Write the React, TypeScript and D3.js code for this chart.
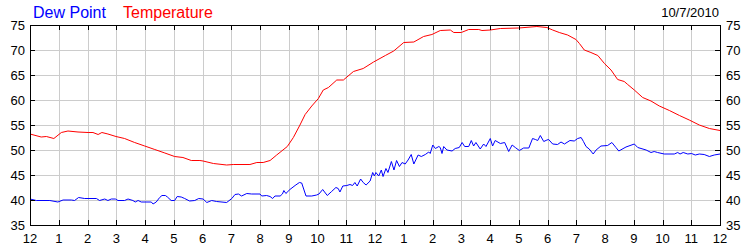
import React from "react";
import * as d3 from "d3";

const hourLabels = ["12","1","2","3","4","5","6","7","8","9","10","11","12","1","2","3","4","5","6","7","8","9","10","11","12"];
const yTicks = [35, 40, 45, 50, 55, 60, 65, 70, 75];
const dateLabel = "10/7/2010";
const seriesNames = ["Dew Point", "Temperature"];

// hours since midnight, value in °F
const tempHours = [0,0.39,0.57,0.83,1.09,1.32,1.67,2.02,2.19,2.37,2.5,2.71,2.99,3.29,3.64,3.99,4.34,4.69,5.03,5.32,5.61,5.91,6.02,6.38,6.84,7.07,7.65,7.89,8.11,8.35,8.58,8.95,9.16,9.39,9.57,9.8,10.03,10.2,10.38,10.67,10.9,11.25,11.59,11.95,12.36,12.65,13.0,13.35,13.69,13.98,14.27,14.62,14.74,15.0,15.26,15.61,15.72,16.01,16.36,17.0,17.63,17.98,18.18,18.41,18.7,18.99,19.11,19.28,19.51,19.75,19.98,20.21,20.44,20.67,20.79,21.02,21.31,21.6,21.89,22.24,22.59,22.93,23.28,23.63,24.0];
const tempValues = [53.2,52.6,52.7,52.3,53.5,53.8,53.6,53.5,53.5,53.1,53.5,53.2,52.7,52.3,51.5,50.8,50.1,49.4,48.7,48.5,47.9,47.9,47.8,47.3,47.0,47.1,47.1,47.5,47.5,47.9,49.0,50.7,52.5,55.0,57.1,58.8,60.3,62.0,62.5,64.0,64.0,65.7,66.3,67.6,68.9,69.8,71.5,71.6,72.7,73.1,73.9,74.0,73.5,73.5,74.1,74.1,73.9,74.0,74.3,74.4,74.7,74.5,74.0,73.5,73.0,72.1,71.3,70.0,69.5,68.9,67.3,66.0,64.1,63.7,63.1,62.0,60.5,59.8,58.8,57.9,56.9,56.0,55.0,54.3,53.9];

const dewHours = [0,0.22,0.69,0.97,1.15,1.44,1.55,1.69,1.9,2.31,2.42,2.6,2.71,2.83,2.97,3.06,3.29,3.41,3.58,3.66,3.76,3.87,4.22,4.28,4.39,4.51,4.59,4.71,4.78,4.91,5.03,5.12,5.26,5.38,5.55,5.73,5.87,6.02,6.15,6.32,6.49,6.84,7.02,7.13,7.25,7.36,7.54,7.71,8.0,8.06,8.23,8.35,8.44,8.52,8.7,8.78,8.83,8.9,9.04,9.22,9.37,9.45,9.6,9.8,9.97,10.05,10.18,10.34,10.49,10.64,10.72,10.78,10.88,11.02,11.13,11.22,11.3,11.38,11.5,11.59,11.69,11.83,11.92,11.98,12.03,12.13,12.22,12.28,12.38,12.45,12.57,12.66,12.75,12.85,12.94,13.05,13.15,13.26,13.35,13.5,13.61,13.75,13.87,13.92,14.01,14.1,14.22,14.27,14.33,14.39,14.5,14.68,14.79,14.93,15.03,15.12,15.26,15.35,15.43,15.51,15.66,15.78,15.86,16.01,16.09,16.18,16.36,16.51,16.65,16.77,16.88,17.02,17.17,17.35,17.48,17.58,17.66,17.75,17.87,17.98,18.04,18.18,18.35,18.47,18.59,18.78,18.93,19.05,19.17,19.25,19.34,19.45,19.59,19.69,19.86,20.09,20.24,20.38,20.48,20.73,21.02,21.14,21.43,21.6,21.71,21.83,22.06,22.41,22.53,22.61,22.72,22.88,23.01,23.14,23.28,23.45,23.63,23.8,24.0];
const dewValues = [40.2,39.9,39.9,39.6,40.0,40.0,39.9,40.5,40.3,40.3,39.9,40.2,39.9,40.2,40.2,39.9,39.9,40.2,39.9,39.6,39.9,39.6,39.6,39.2,39.6,40.5,40.9,40.9,40.6,39.9,39.9,40.7,40.6,40.3,39.8,39.9,40.3,40.2,39.5,39.9,39.7,39.5,40.3,41.1,41.2,40.8,41.3,41.2,41.2,40.8,40.9,40.7,40.3,40.8,40.8,41.2,41.9,41.3,42.1,42.9,43.5,43.4,40.8,40.8,41.0,41.2,42.1,40.9,41.7,42.5,42.3,41.6,42.8,42.9,43.1,42.9,43.5,42.8,44.2,43.5,43.0,43.8,45.5,44.8,45.5,44.8,46.0,44.7,46.3,45.5,47.7,46.0,47.9,46.7,47.5,47.2,48.0,49.1,47.2,49.0,48.7,49.1,49.6,49.3,51.0,50.3,50.7,50.5,49.3,50.7,50.0,49.8,50.3,50.5,51.5,50.7,50.7,51.9,50.8,51.5,50.2,51.2,50.7,52.3,50.8,51.9,51.3,51.5,49.7,51.0,50.5,49.9,50.4,50.4,52.3,52.1,51.9,52.9,51.7,52.0,52.1,51.2,51.1,51.6,51.2,51.9,51.8,52.3,52.5,51.7,50.7,50.2,49.2,50.0,50.8,50.9,51.5,50.5,49.8,50.6,51.2,50.5,50.0,49.5,49.7,49.5,49.2,49.2,49.5,49.2,49.5,49.2,49.3,49.0,49.2,49.1,48.7,49.0,49.2];

const W = 750, H = 250;
const L = 30, R = 720, T = 25, B = 225;
const FONT = "Arial, 'Liberation Sans', sans-serif";

export default function App() {
  const x = d3.scaleLinear().domain([0, 24]).range([L, R]);
  const y = d3.scaleLinear().domain([35, 75]).range([B, T]);
  const hourTicks = d3.range(0, 25);

  const tempData = tempHours.map((h, i) => [h, tempValues[i]] as [number, number]);
  const dewData = dewHours.map((h, i) => [h, dewValues[i]] as [number, number]);
  const line = d3.line<[number, number]>().x(d => x(d[0])).y(d => y(d[1]));

  const px = (v: number) => Math.round(v) + 0.5;

  return (
    <div style={{ position: "absolute", left: 0, top: 0 }}>
      <svg width={W} height={H} style={{ display: "block", background: "#fff" }} fontFamily={FONT}>
        <rect x={0} y={0} width={W} height={H} fill="#fff" />
        {/* grid */}
        <g stroke="#cccccc" strokeWidth={1} shapeRendering="crispEdges">
          {hourTicks.slice(1, -1).map(h => (
            <line key={"gv" + h} x1={px(x(h))} x2={px(x(h))} y1={T} y2={B} />
          ))}
          {yTicks.slice(1, -1).map(v => (
            <line key={"gh" + v} x1={L} x2={R} y1={px(y(v))} y2={px(y(v))} />
          ))}
        </g>
        {/* series */}
        <path d={line(dewData) || ""} fill="none" stroke="#0000ff" strokeWidth={1} />
        <path d={line(tempData) || ""} fill="none" stroke="#ff0000" strokeWidth={1} />
        {/* frame & ticks */}
        <g stroke="#000" strokeWidth={1} shapeRendering="crispEdges">
          <rect x={px(L)} y={px(T)} width={R - L} height={B - T} fill="none" />
          {hourTicks.map(h => (
            <g key={"t" + h}>
              <line x1={px(x(h))} x2={px(x(h))} y1={T} y2={T + 5} />
              <line x1={px(x(h))} x2={px(x(h))} y1={B} y2={B - 5} />
            </g>
          ))}
          {yTicks.map(v => (
            <g key={"yt" + v}>
              <line x1={L} x2={L + 5} y1={px(y(v))} y2={px(y(v))} />
              <line x1={R} x2={R - 5} y1={px(y(v))} y2={px(y(v))} />
            </g>
          ))}
        </g>
        {/* labels */}
        <g fontSize={13} fill="#000">
          {yTicks.map(v => (
            <g key={"yl" + v}>
              <text x={L - 5} y={y(v) + 5} textAnchor="end">{v}</text>
              <text x={R + 6} y={y(v) + 5} textAnchor="start">{v}</text>
            </g>
          ))}
          {hourTicks.map(h => (
            <text key={"xl" + h} x={x(h)} y={243} textAnchor="middle">{hourLabels[h]}</text>
          ))}
          <text x={719} y={17} textAnchor="end">{dateLabel}</text>
        </g>
        <g fontSize={16}>
          <text x={33} y={18} fill="#0000ff">{seriesNames[0]}</text>
          <text x={123} y={18} fill="#ff0000">{seriesNames[1]}</text>
        </g>
      </svg>
    </div>
  );
}
